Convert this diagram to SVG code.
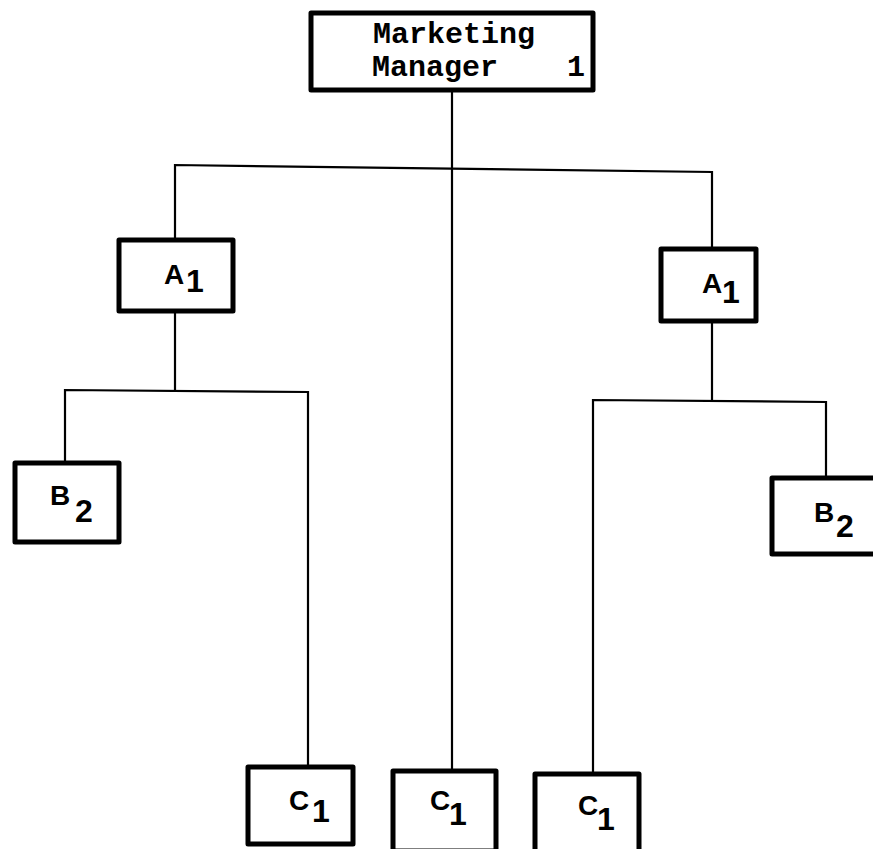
<svg xmlns="http://www.w3.org/2000/svg" width="873" height="849" viewBox="0 0 873 849">
<style>
.box{fill:#fff;stroke:#000;stroke-width:5;stroke-linejoin:round}
.ln{fill:none;stroke:#000;stroke-width:2.2}
.t{font-family:"Liberation Sans",Arial,sans-serif;font-weight:bold;font-size:28px;fill:#000}
.s{font-family:"Liberation Sans",Arial,sans-serif;font-weight:bold;font-size:32px;fill:#000;text-anchor:middle}
.m{font-family:"Liberation Mono","Courier New",monospace;font-weight:bold;font-size:30px;fill:#000}
</style>
<rect width="873" height="849" fill="#fff"/>
<g id="connectors">
<polyline class="ln" points="452,92 452,770"/>
<polyline class="ln" points="175,239 175,165 712,172 712,248"/>
<polyline class="ln" points="175,312 175,390"/>
<polyline class="ln" points="65,462 65,390 308,392 308,766"/>
<polyline class="ln" points="712,322 712,400"/>
<polyline class="ln" points="593,773 593,400 826,402 826,477"/>
</g>
<g id="manager">
<rect class="box" x="311" y="13" width="282" height="77"/>
<text class="m" x="373" y="43">Marketing</text>
<text class="m" x="372" y="76">Manager</text>
<text class="m" x="576" y="76" text-anchor="middle">1</text>
</g>
<g id="a1-left">
<rect class="box" x="119" y="240" width="114" height="71"/>
<text class="t" x="164" y="284" font-size="29">A</text>
<text class="s" x="195" y="292">1</text>
</g>
<g id="a1-right">
<rect class="box" x="661" y="249" width="95" height="72"/>
<text class="t" x="702" y="293" font-size="29">A</text>
<text class="s" x="731" y="303">1</text>
</g>
<g id="b2-left">
<rect class="box" x="15" y="463" width="104" height="79"/>
<text class="t" x="50" y="505" font-size="25">B</text>
<text class="s" x="84" y="522">2</text>
</g>
<g id="b2-right">
<rect class="box" x="772" y="478" width="106" height="76"/>
<text class="t" x="814" y="522" font-size="25">B</text>
<text class="s" x="845" y="537">2</text>
</g>
<g id="c1-left">
<rect class="box" x="248" y="767" width="105" height="77"/>
<text class="t" x="289" y="810" font-size="24">C</text>
<text class="s" x="321" y="822">1</text>
</g>
<g id="c1-mid">
<rect class="box" x="393" y="771" width="103" height="80"/>
<text class="t" x="430" y="810" font-size="24">C</text>
<text class="s" x="458" y="825">1</text>
</g>
<g id="c1-right">
<rect class="box" x="535" y="774" width="104" height="80"/>
<text class="t" x="578" y="815" font-size="24">C</text>
<text class="s" x="606" y="830">1</text>
</g>
</svg>
